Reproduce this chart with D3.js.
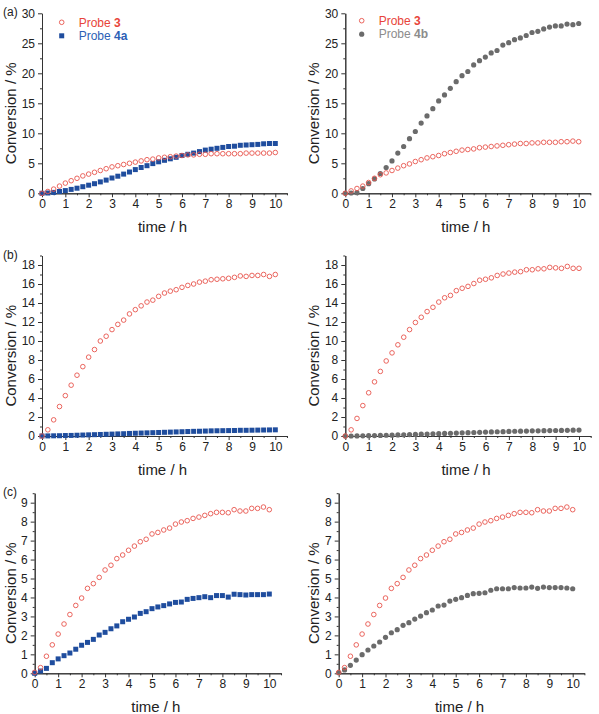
<!DOCTYPE html>
<html>
<head>
<meta charset="utf-8">
<script src="https://cdn.jsdelivr.net/npm/d3@7"></script>
<style>
body { margin: 0; background: #fff; }
svg { display: block; font-family: "Liberation Sans", Arial, sans-serif; }
.axis path, .axis line { stroke: #333; }
.axis text { font-size: 12px; fill: #222; font-family: "Liberation Sans", Arial, sans-serif; }
</style>
</head>
<body>
<svg width="599" height="714"></svg>
<script>
// **** data (time in h, conversion in %) ****
var hours = [0,0.25,0.5,0.75,1,1.25,1.5,1.75,2,2.25,2.5,2.75,3,3.25,3.5,3.75,4,4.25,4.5,4.75,5,
	5.25,5.5,5.75,6,6.25,6.5,6.75,7,7.25,7.5,7.75,8,8.25,8.5,8.75,9,9.25,9.5,9.75,10];

// (a)
var probe3A1 = [0,0.3,0.7,1.2,1.7,2.1,2.5,2.9,3.2,3.5,3.8,4.1,4.4,4.6,4.8,5.0,5.2,5.4,5.6,5.7,5.9,
	6.0,6.1,6.2,6.3,6.4,6.4,6.5,6.5,6.6,6.6,6.6,6.6,6.6,6.6,6.7,6.7,6.7,6.7,6.7,6.8];
var probe4aA = [0,0.05,0.15,0.3,0.45,0.65,0.85,1.1,1.35,1.6,1.9,2.2,2.55,2.85,3.2,3.55,3.95,4.3,4.6,4.95,5.25,
	5.5,5.75,6.0,6.3,6.5,6.7,6.95,7.2,7.35,7.5,7.65,7.8,7.85,8.0,8.05,8.1,8.15,8.25,8.3,8.3];
var probe3A2 = [0,0.4,0.8,1.2,1.8,2.5,3.1,3.4,3.8,4.2,4.6,4.9,5.3,5.6,5.9,6.1,6.3,6.6,6.8,7.0,7.2,
	7.3,7.4,7.6,7.7,7.8,7.9,8.0,8.1,8.2,8.3,8.3,8.4,8.4,8.5,8.5,8.5,8.6,8.6,8.7,8.6];
var probe4bA = [0,0.05,0.1,0.8,1.6,2.4,3.3,4.3,5.4,6.7,7.8,9.1,10.3,11.7,12.9,14.1,15.4,16.4,17.5,18.6,19.6,
	20.3,21.4,22.1,22.7,23.4,23.8,24.7,25.1,25.6,25.9,26.3,26.8,27.0,27.4,27.7,27.9,27.9,28.2,28.1,28.3];

// (b)
var probe3B1 = [0,0.65,1.7,3.1,4.25,5.35,6.4,7.3,8.3,9.1,10.0,10.5,11.2,11.75,12.2,12.85,13.3,13.7,14.1,14.3,14.7,
	15.05,15.25,15.4,15.65,15.85,16.0,16.2,16.3,16.45,16.5,16.55,16.6,16.7,16.85,16.8,16.9,16.9,17.0,16.8,17.0];
var probe4aB = [0,0.01,0.02,0.03,0.05,0.06,0.08,0.1,0.12,0.14,0.16,0.18,0.2,0.22,0.24,0.27,0.29,0.31,0.33,0.35,0.37,
	0.39,0.41,0.43,0.45,0.47,0.49,0.5,0.52,0.54,0.55,0.56,0.57,0.58,0.6,0.6,0.61,0.62,0.63,0.64,0.65];
var probe3B2 = [0,0.65,1.85,3.2,4.55,5.7,6.8,7.9,8.75,9.6,10.4,11.2,11.95,12.5,13.1,13.55,14.1,14.55,14.8,15.3,15.55,
	15.75,16.05,16.4,16.5,16.65,16.9,17.05,17.15,17.25,17.3,17.5,17.5,17.6,17.6,17.75,17.7,17.65,17.85,17.65,17.65];
var probe4bB = [0,0,0.01,0.02,0.03,0.04,0.06,0.08,0.09,0.11,0.13,0.15,0.17,0.19,0.21,0.23,0.25,0.27,0.29,0.31,0.33,
	0.35,0.37,0.39,0.41,0.43,0.45,0.46,0.48,0.5,0.51,0.52,0.54,0.55,0.56,0.57,0.58,0.59,0.6,0.61,0.62];

// (c)
var probe3C = [0.05,0.3,0.9,1.5,2.07,2.6,3.1,3.58,3.97,4.48,4.73,5.06,5.45,5.7,6.05,6.24,6.49,6.71,6.94,7.07,7.35,
	7.43,7.56,7.66,7.87,7.98,8.05,8.17,8.24,8.33,8.42,8.49,8.49,8.47,8.63,8.56,8.56,8.7,8.7,8.77,8.63];
var probe4aC = [0,0.12,0.26,0.56,0.76,0.93,1.07,1.27,1.48,1.63,1.79,2.02,2.16,2.35,2.5,2.72,2.85,2.97,3.16,3.25,3.41,
	3.5,3.57,3.66,3.74,3.76,3.9,3.95,3.99,4.04,3.99,4.1,4.1,4.02,4.17,4.15,4.13,4.15,4.15,4.15,4.18];
var probe4bC = [0.03,0.18,0.42,0.7,0.98,1.23,1.44,1.65,1.9,2.14,2.3,2.53,2.67,2.86,3.02,3.2,3.34,3.55,3.6,3.81,3.9,
	3.99,4.11,4.2,4.22,4.25,4.38,4.46,4.46,4.46,4.52,4.5,4.5,4.55,4.48,4.55,4.52,4.52,4.52,4.5,4.46];

// tick labels
var xTicks = [0,1,2,3,4,5,6,7,8,9,10];
var yTicksA = [0,5,10,15,20,25,30];
var yTicksB = [0,2,4,6,8,10,12,14,16,18];
var yTicksC = [0,1,2,3,4,5,6,7,8,9];

var legendA1 = [["Probe ", "3", "probe3"], ["Probe ", "4a", "probe4a"]];
var legendA2 = [["Probe ", "3", "probe3"], ["Probe ", "4b", "probe4b"]];

// **** styles ****
var marks = {
	probe3:  {shape: "open",   color: "#e8554d", text: "#e8443a"},
	probe4a: {shape: "square", color: "#1f4d9e", text: "#2c5fb5"},
	probe4b: {shape: "dot",    color: "#6b6b6b", text: "#8c8c8c"}
};

var panels = [
	{tag: "(a)", x0: 42,    x10: 275.3, y0: 193.3, y1: 13.3,  ymax: 30,  yMinorStep: 2.5, yTicks: yTicksA, labelX: 15.5,
		series: [[probe4aA, "probe4a"], [probe3A1, "probe3"]], legend: legendA1, lx: 61.7, ly: 22.3},
	{tag: null,  x0: 345.3, x10: 578.7, y0: 193.3, y1: 13.3,  ymax: 30,  yMinorStep: 2.5, yTicks: yTicksA, labelX: 318.5,
		series: [[probe4bA, "probe4b"], [probe3A2, "probe3"]], legend: legendA2, lx: 361.7, ly: 20.7},
	{tag: "(b)", x0: 42,    x10: 275.3, y0: 436,   y1: 255.5, ymax: 19,  yMinorStep: 1,   yTicks: yTicksB, labelX: 15.5,
		series: [[probe4aB, "probe4a"], [probe3B1, "probe3"]]},
	{tag: null,  x0: 345.3, x10: 579,   y0: 436,   y1: 255.5, ymax: 19,  yMinorStep: 1,   yTicks: yTicksB, labelX: 318.5,
		series: [[probe4bB, "probe4b"], [probe3B2, "probe3"]]},
	{tag: "(c)", x0: 34.7,  x10: 269.3, y0: 673.3, y1: 493.2, ymax: 9.5, yMinorStep: 0.5, yTicks: yTicksC, labelX: 15.5,
		series: [[probe4aC, "probe4a"], [probe3C, "probe3"]]},
	{tag: null,  x0: 338.7, x10: 572.7, y0: 673.3, y1: 493.2, ymax: 9.5, yMinorStep: 0.5, yTicks: yTicksC, labelX: 318.5,
		series: [[probe4bC, "probe4b"], [probe3C, "probe3"]]}
];

var svg = d3.select("svg");

function drawMark(g, key, cx, cy) {
	var m = marks[key];
	if (m.shape === "open") {
		g.append("circle").attr("cx", cx).attr("cy", cy).attr("r", 2.3)
			.attr("fill", "none").attr("stroke", m.color).attr("stroke-width", 0.9);
	} else if (m.shape === "dot") {
		g.append("circle").attr("cx", cx).attr("cy", cy).attr("r", 2.6).attr("fill", m.color);
	} else {
		g.append("rect").attr("x", cx - 2.5).attr("y", cy - 2.5)
			.attr("width", 5).attr("height", 5).attr("fill", m.color);
	}
}

panels.forEach(function(p) {
	var xScale = d3.scaleLinear()
		.domain([0, 10.5])
		.range([p.x0, p.x0 + (p.x10 - p.x0) * 1.05]);
	var yScale = d3.scaleLinear()
		.domain([0, p.ymax])
		.range([p.y0, p.y1]);

	var xMinor = d3.range(0.5, 10.51, 1);
	var yMinor = d3.range(p.yMinorStep, p.ymax + 0.001, p.yMinorStep)
		.filter(function(v) { return p.yTicks.indexOf(v) < 0; });

	// minor ticks
	svg.append("g").attr("class", "axis")
		.attr("transform", "translate(0," + p.y0 + ")")
		.call(d3.axisBottom(xScale).tickValues(xMinor).tickSize(2).tickSizeOuter(0).tickFormat(""));
	svg.append("g").attr("class", "axis")
		.attr("transform", "translate(" + p.x0 + ",0)")
		.call(d3.axisLeft(yScale).tickValues(yMinor).tickSize(2).tickSizeOuter(0).tickFormat(""));

	// major axes
	svg.append("g").attr("class", "axis")
		.attr("transform", "translate(0," + p.y0 + ")")
		.call(d3.axisBottom(xScale).tickValues(xTicks).tickSize(4).tickPadding(2).tickSizeOuter(0));
	svg.append("g").attr("class", "axis")
		.attr("transform", "translate(" + p.x0 + ",0)")
		.call(d3.axisLeft(yScale).tickValues(p.yTicks).tickSize(4).tickPadding(3).tickSizeOuter(0));

	// axis titles
	svg.append("text")
		.attr("x", (xScale(0) + xScale(10.5)) / 2 - 2)
		.attr("y", p.y0 + 39)
		.attr("text-anchor", "middle")
		.attr("font-size", "15px").attr("fill", "#222")
		.text("time / h");
	svg.append("text")
		.attr("transform", "translate(" + p.labelX + "," + ((p.y0 + p.y1) / 2 + 10) + ") rotate(-90)")
		.attr("text-anchor", "middle")
		.attr("font-size", "15px").attr("fill", "#222")
		.text("Conversion / %");

	if (p.tag) {
		svg.append("text")
			.attr("x", 3).attr("y", p.y1 + 3)
			.attr("font-size", "12px").attr("fill", "#222")
			.text(p.tag);
	}

	// points
	p.series.forEach(function(s) {
		var g = svg.append("g");
		s[0].forEach(function(v, i) {
			drawMark(g, s[1], xScale(hours[i]), yScale(v));
		});
	});

	// legend
	if (p.legend) {
		p.legend.forEach(function(row, i) {
			var g = svg.append("g");
			var cy = p.ly + i * 13.5;
			drawMark(g, row[2], p.lx, cy);
			var t = g.append("text")
				.attr("x", p.lx + 17).attr("y", cy + 4.2)
				.attr("font-size", "12px").attr("fill", marks[row[2]].text);
			t.append("tspan").text(row[0]);
			t.append("tspan").attr("font-weight", "bold").text(row[1]);
		});
	}
});
</script>
</body>
</html>
